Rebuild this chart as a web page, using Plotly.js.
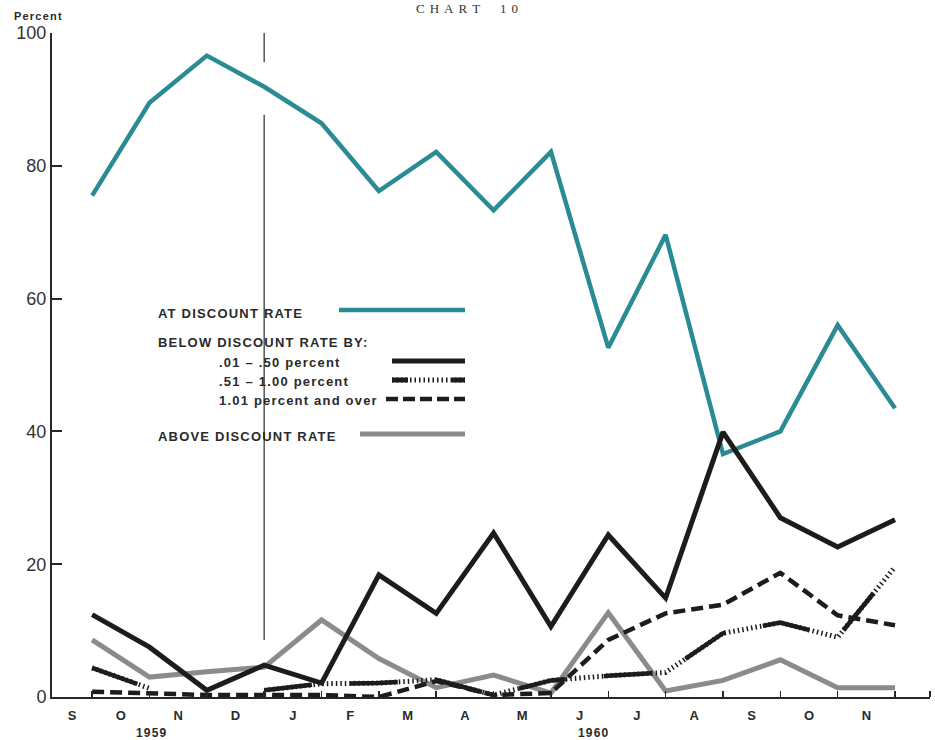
<!DOCTYPE html>
<html>
<head>
<meta charset="utf-8">
<script src="https://cdn.plot.ly/plotly-3.0.1.min.js"></script>
<style>
html,body{margin:0;padding:0;background:#fff;}
#chart{width:935px;height:740px;}
.annotation-text{letter-spacing:1.2px;}
</style>
</head>
<body>
<div id="chart"></div>
<script>
// ---- data (month-end readings, Sept 1959 .. Nov 1960) ----
const months = ['S','O','N','D','J','F','M','A','M','J','J','A','S','O','N'];
const yearLabels = ['1959','1960'];
const atRate      = [75.5, 89.5, 96.6, 91.9, 86.4, 76.2, 82.1, 73.3, 82.1, 52.6, 69.6, 36.6, 40.0, 56.0, 43.5];
const below01to50 = [12.4, 7.5, 1.0, 4.8, 2.1, 18.4, 12.6, 24.7, 10.6, 24.4, 14.9, 39.9, 27.0, 22.6, 26.7];
const below51to100= [4.4, 1.3, null, 1.0, 2.0, 2.1, 2.6, 0.3, 2.5, 3.2, 3.7, 9.6, 11.2, 9.0, 19.6];
const below101up  = [0.8, 0.6, 0.3, 0.3, 0.3, 0.0, 2.4, 0.3, 0.6, 8.6, 12.6, 13.9, 18.7, 12.3, 10.8];
const aboveRate   = [8.6, 3.0, 3.8, 4.5, 11.6, 5.8, 1.4, 3.3, 0.6, 12.7, 0.9, 2.5, 5.6, 1.4, 1.4];
const yTicks = [0, 20, 40, 60, 80, 100];
const legendLabels = ['AT DISCOUNT RATE', 'BELOW DISCOUNT RATE BY:', '.01 \u2013 .50 percent',
                      '.51 \u2013 1.00 percent', '1.01 percent and over', 'ABOVE DISCOUNT RATE'];

// ---- styling / layout ----
const TEAL = '#2a8b95', BLACK = '#1e1c1b', GRAY = '#8b8b8b', AXIS = '#2b2622';
const X0 = 0.30, X1 = 15.61;
const L = 52, R = 930, T = 33, B = 697;
const px = x => (x - L) / (R - L);
const py = y => (B - y) / (B - T);

const xPos = months.map((_, i) => i + 1);            // month-end positions
const labelPos = months.map((_, i) => i === 0 ? (X0 + 1) / 2 : i + 0.5);

const traces = [
  {x: xPos, y: atRate, mode: 'lines', line: {color: TEAL, width: 4.5}},
  {x: xPos, y: aboveRate, mode: 'lines', line: {color: GRAY, width: 5}},
  {x: xPos, y: below101up, mode: 'lines', line: {color: BLACK, width: 4.5, dash: '12px,6px'}},
  {x: xPos, y: below51to100, mode: 'lines', line: {color: BLACK, width: 5, dash: '1.5px,3px'}},
  {x: xPos, y: below51to100, mode: 'lines', line: {color: BLACK, width: 4.5, dash: '48px,38px'}},
  {x: xPos, y: below01to50, mode: 'lines', line: {color: BLACK, width: 5}}
];
traces.forEach(t => { t.showlegend = false; t.hoverinfo = 'skip'; });

const shapes = [
  {type: 'line', xref: 'x', yref: 'y', x0: 4, x1: 4, y0: 95.6, y1: 100, line: {color: '#555', width: 1.5}},
  {type: 'line', xref: 'x', yref: 'y', x0: 4, x1: 4, y0: 8.6, y1: 87.7, line: {color: '#555', width: 1.5}},
  // legend samples
  {type: 'line', xref: 'paper', yref: 'paper', x0: px(339), x1: px(465), y0: py(310), y1: py(310), line: {color: TEAL, width: 4.5}},
  {type: 'line', xref: 'paper', yref: 'paper', x0: px(392), x1: px(465), y0: py(361), y1: py(361), line: {color: BLACK, width: 5}},
  {type: 'line', xref: 'paper', yref: 'paper', x0: px(392), x1: px(465), y0: py(380), y1: py(380), line: {color: BLACK, width: 5, dash: '1.5px,3px'}},
  {type: 'line', xref: 'paper', yref: 'paper', x0: px(392), x1: px(408), y0: py(380), y1: py(380), line: {color: BLACK, width: 5}},
  {type: 'line', xref: 'paper', yref: 'paper', x0: px(452), x1: px(465), y0: py(380), y1: py(380), line: {color: BLACK, width: 5}},
  {type: 'line', xref: 'paper', yref: 'paper', x0: px(386), x1: px(465), y0: py(399), y1: py(399), line: {color: BLACK, width: 4.5, dash: '12px,5px'}},
  {type: 'line', xref: 'paper', yref: 'paper', x0: px(360), x1: px(465), y0: py(434), y1: py(434), line: {color: GRAY, width: 5}}
];

const legFont = {family: 'Liberation Sans, Arial, sans-serif', size: 13, color: '#2a2a2a', weight: 'bold'};
const legPos = [[156, 313], [156, 342], [217, 362], [217, 381], [217, 400], [156, 436]];
const annotations = legendLabels.map((t, i) => ({
  text: t, xref: 'paper', yref: 'paper', x: px(legPos[i][0]), y: py(legPos[i][1]),
  xanchor: 'left', yanchor: 'middle', showarrow: false, font: legFont
}));
annotations.push(
  {text: 'Percent', xref: 'paper', yref: 'paper', x: px(12), y: py(16), xanchor: 'left', yanchor: 'middle',
   showarrow: false, font: {family: 'Liberation Sans, Arial, sans-serif', size: 11, color: '#2a2a2a', weight: 'bold'}},
  {text: yearLabels[0], xref: 'x', yref: 'paper', x: 2.05, y: py(733), xanchor: 'center', yanchor: 'middle',
   showarrow: false, font: {family: 'Liberation Sans, Arial, sans-serif', size: 12, color: '#2a2a2a', weight: 'bold'}},
  {text: yearLabels[1], xref: 'x', yref: 'paper', x: 9.75, y: py(733), xanchor: 'center', yanchor: 'middle',
   showarrow: false, font: {family: 'Liberation Sans, Arial, sans-serif', size: 12, color: '#2a2a2a', weight: 'bold'}},
  {text: 'C\u2009H\u2009A\u2009R\u2009T\u2003 1\u20090', xref: 'paper', yref: 'paper', x: px(467), y: py(9),
   xanchor: 'center', yanchor: 'middle', showarrow: false,
   font: {family: 'Liberation Serif, Times New Roman, serif', size: 13, color: '#333'}}
);

const layout = {
  width: 935, height: 740,
  margin: {l: L, r: 935 - R, t: T, b: 740 - B},
  paper_bgcolor: '#ffffff', plot_bgcolor: '#ffffff',
  showlegend: false,
  xaxis: {
    range: [X0, X1], showgrid: false, zeroline: false,
    showline: true, linecolor: AXIS, linewidth: 2,
    tickmode: 'array', tickvals: labelPos, ticktext: months, ticks: '',
    ticklabelstandoff: 5,
    tickfont: {family: 'Liberation Sans, Arial, sans-serif', size: 13, color: '#2a2a2a', weight: 'bold'},
    minor: {tickmode: 'array', tickvals: xPos.concat([X1]), ticks: 'inside', ticklen: 6, tickwidth: 1.5, tickcolor: AXIS, showgrid: false}
  },
  yaxis: {
    range: [0, 100], showgrid: false, zeroline: false,
    showline: true, linecolor: AXIS, linewidth: 2,
    tickmode: 'array', tickvals: yTicks, ticks: 'inside', ticklen: 10, tickwidth: 2, tickcolor: AXIS,
    tickfont: {family: 'Liberation Sans, Arial, sans-serif', size: 18, color: '#333'}
  },
  shapes: shapes,
  annotations: annotations
};

Plotly.newPlot('chart', traces, layout, {staticPlot: true, displayModeBar: false});
</script>
</body>
</html>
